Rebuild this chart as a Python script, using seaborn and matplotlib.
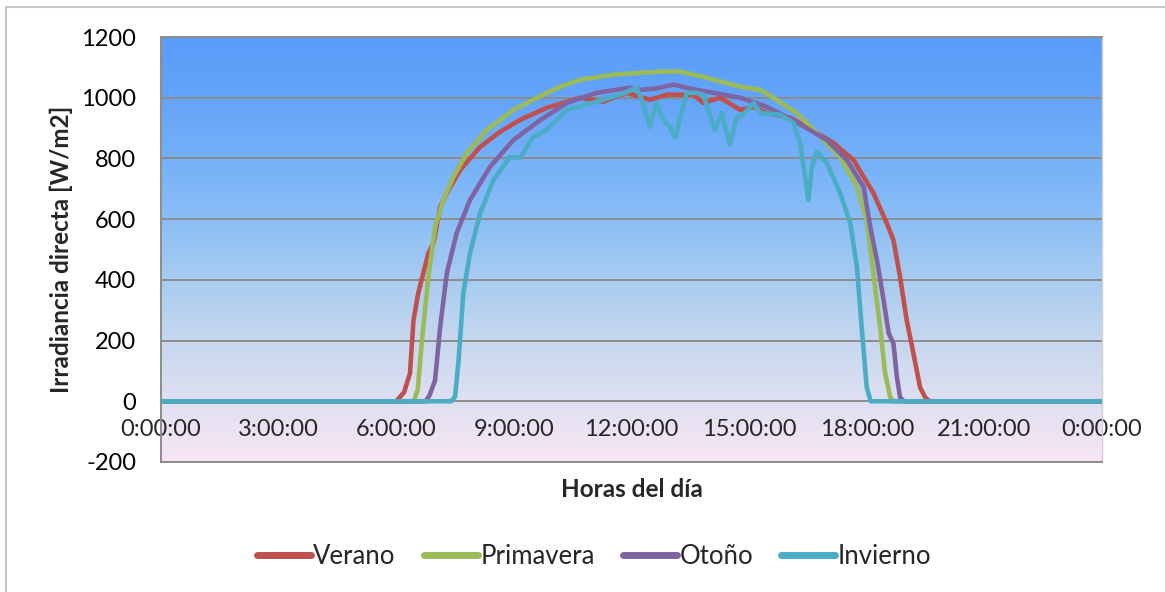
import numpy as np
import pandas as pd
import matplotlib
matplotlib.use("Agg")
import matplotlib.pyplot as plt
from matplotlib.colors import LinearSegmentedColormap
from matplotlib.lines import Line2D
import seaborn as sns

# Irradiancia directa (W/m2) por estación, hora del día en horas decimales
verano_h = [0, 6.0, 6.2, 6.35, 6.44, 6.56, 6.69, 6.82, 6.95, 7.12, 7.29, 7.63, 8.14, 8.65,
            9.16, 9.84, 10.18, 10.69, 11.28, 11.88, 12.47, 12.9, 13.58, 13.83, 14.26, 14.77,
            15.11, 15.45, 16.05, 16.73, 17.15, 17.66, 18.17, 18.51, 18.68, 18.85, 19.02,
            19.19, 19.36, 19.49, 19.6, 24]
verano_v = [0, 0, 30, 92, 267, 356, 422, 488, 521, 640, 686, 762, 838, 888,
            927, 967, 980, 1000, 987, 1016, 993, 1010, 1010, 983, 1000, 960,
            970, 950, 934, 884, 851, 795, 686, 587, 531, 409, 267,
            158, 46, 13, 0, 0]

primavera_h = [0, 6.45, 6.55, 6.61, 6.69, 6.82, 6.99, 7.2, 7.46, 7.8, 8.31, 8.99, 9.84,
               10.18, 10.69, 11.54, 12.22, 12.73, 13.24, 13.92, 14.77, 15.28, 15.62, 16.21,
               16.73, 17.32, 17.75, 18.0, 18.17, 18.34, 18.47, 18.6, 18.7, 24]
primavera_v = [0, 0, 40, 135, 245, 410, 574, 663, 740, 818, 894, 960, 1016,
               1036, 1059, 1076, 1082, 1086, 1086, 1066, 1036, 1026, 1000, 950,
               884, 805, 706, 597, 422, 244, 92, 13, 0, 0]

otono_h = [0, 6.75, 6.85, 6.99, 7.12, 7.29, 7.54, 7.88, 8.39, 8.99, 9.68, 10.35, 11.11,
           11.96, 12.22, 12.6, 13.07, 13.5, 13.92, 14.77, 15.45, 16.24, 16.98, 17.49,
           17.92, 18.09, 18.26, 18.43, 18.56, 18.68, 18.77, 18.85, 18.95, 24]
otono_v = [0, 0, 20, 69, 245, 422, 554, 663, 772, 861, 927, 983, 1016,
           1033, 1026, 1030, 1043, 1030, 1020, 1000, 970, 917, 861, 795,
           706, 574, 465, 333, 224, 191, 79, 13, 0, 0]

invierno_h = [0, 7.4, 7.5, 7.59, 7.71, 7.88, 8.14, 8.48, 8.9, 9.16, 9.49, 9.84, 10.35,
              11.11, 11.71, 12.13, 12.3, 12.47, 12.64, 12.81, 12.98, 13.11, 13.41, 13.66,
              13.83, 14.13, 14.3, 14.51, 14.68, 14.85, 15.11, 15.28, 15.79, 16.13, 16.3,
              16.43, 16.51, 16.6, 16.73, 16.98, 17.32, 17.58, 17.75, 17.87, 18.0, 18.1,
              18.21, 24]
invierno_v = [0, 0, 15, 135, 356, 488, 620, 729, 805, 802, 871, 894, 960,
              987, 1010, 1033, 980, 904, 983, 927, 904, 868, 1016, 1016,
              1010, 894, 950, 845, 937, 944, 983, 950, 944, 917, 851,
              739, 663, 772, 822, 785, 686, 587, 442, 244, 46, 0,
              0, 0]

estaciones = ["Verano", "Primavera", "Otoño", "Invierno"]
colores = ["#c0504d", "#9bbb59", "#8064a2", "#4bacc6"]
x_ticks = [0, 3, 6, 9, 12, 15, 18, 21, 24]
x_labels = ["0:00:00", "3:00:00", "6:00:00", "9:00:00", "12:00:00",
            "15:00:00", "18:00:00", "21:00:00", "0:00:00"]
y_ticks = [-200, 0, 200, 400, 600, 800, 1000, 1200]

df = pd.concat([
    pd.DataFrame({"hora": h, "irradiancia": v, "estacion": e})
    for h, v, e in [(verano_h, verano_v, "Verano"),
                    (primavera_h, primavera_v, "Primavera"),
                    (otono_h, otono_v, "Otoño"),
                    (invierno_h, invierno_v, "Invierno")]
], ignore_index=True)

sns.set_style("white")
plt.rcParams["font.family"] = ["Lato", "DejaVu Sans"]

fig = plt.figure(figsize=(11.65, 5.92), dpi=100)
ax = fig.add_axes([161 / 1165, 1 - 462 / 592, (1102 - 161) / 1165, (462 - 37) / 592])

ymin, ymax = -200, 1200

# fondo degradado del área de trazado
stops = ["#f8e6f4", "#dfe0f2", "#c6d7ee", "#a8ccf0", "#8abef6", "#75b1f8", "#64a4f9", "#5a9cf9"]
cmap = LinearSegmentedColormap.from_list("fondo", stops)
grad = np.linspace(0, 1, 256).reshape(-1, 1)
ax.imshow(grad, extent=[0, 24, ymin, ymax], origin="lower", aspect="auto",
          cmap=cmap, zorder=0, interpolation="bicubic")

sns.lineplot(data=df, x="hora", y="irradiancia", hue="estacion", hue_order=estaciones,
             palette=colores, estimator=None, sort=False, lw=3.3, ax=ax, zorder=3,
             legend=False)

ax.set_xlim(0, 24)
ax.set_ylim(ymin, ymax)
ax.set_yticks(y_ticks)
ax.set_yticklabels([str(t) for t in y_ticks])
ax.set_xticks(x_ticks)
ax.set_xticklabels([])
ax.tick_params(axis="both", length=0)
ax.tick_params(axis="y", pad=18, labelsize=17, labelcolor="#000000")
ax.yaxis.grid(True, color="#8c8c8c", lw=1.4)
ax.xaxis.grid(False)
ax.set_axisbelow(True)
for s in ["left", "top", "bottom"]:
    ax.spines[s].set_color("#8c8c8c")
    ax.spines[s].set_linewidth(1.4)
ax.spines["right"].set_color("#d0d0d0")
ax.spines["right"].set_linewidth(1.0)

# etiquetas de hora sobre el eje horizontal en y = 0
sec = ax.secondary_xaxis((0 - ymin) / (ymax - ymin))
sec.set_xticks(x_ticks)
sec.set_xticklabels(x_labels)
sec.tick_params(length=0, pad=13, labelsize=17)
sec.spines["bottom"].set_visible(False)

ax.set_xlabel("Horas del día", fontsize=17.5, fontweight="bold", labelpad=8)
ax.set_ylabel("Irradiancia directa [W/m2]", fontsize=17.5, fontweight="bold", labelpad=6)

handles = [Line2D([0], [0], color=c, lw=5, solid_capstyle="round") for c in colores]
fig.legend(handles, estaciones, loc="center", bbox_to_anchor=(594 / 1165, 1 - 556 / 592),
           ncol=4, frameon=False, fontsize=18.5, handlelength=2.1, handletextpad=0.1,
           columnspacing=1.1)

# marco exterior del gráfico
fig.add_artist(Line2D([6 / 1165, 6 / 1165], [0, 1 - 7 / 592], color="#c8c8c8", lw=1.5))
fig.add_artist(Line2D([6 / 1165, 1], [1 - 7 / 592, 1 - 7 / 592], color="#c8c8c8", lw=1.5))

fig.savefig("out.png", dpi=100)
